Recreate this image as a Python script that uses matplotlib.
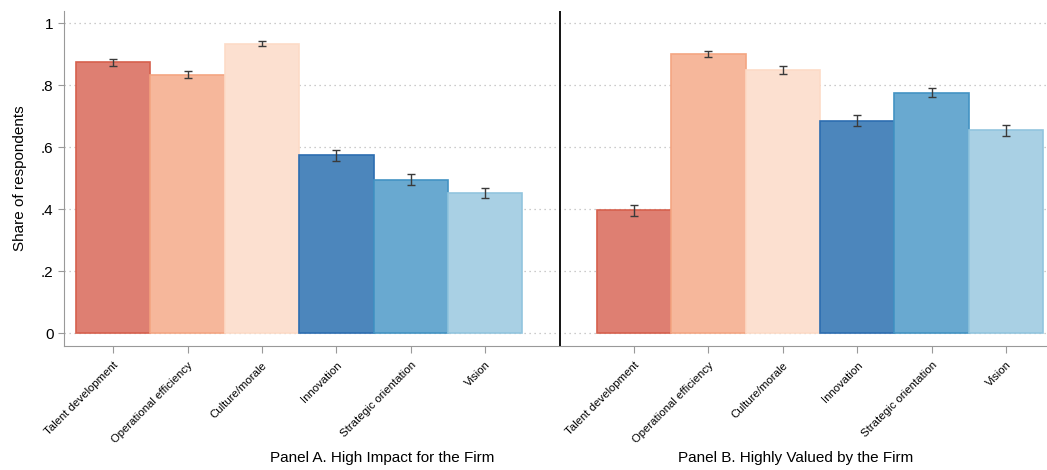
import numpy as np
import matplotlib.pyplot as plt
import matplotlib as mpl
import matplotlib.transforms as mtransforms

mpl.rc('font', family=['Liberation Sans', 'DejaVu Sans'])

# data
categories = ['Talent development', 'Operational efficiency', 'Culture/morale',
              'Innovation', 'Strategic orientation', 'Vision']
panel_a = [0.874, 0.835, 0.935, 0.574, 0.496, 0.452]
panel_a_err = [0.012, 0.012, 0.008, 0.017, 0.018, 0.017]
panel_b = [0.397, 0.901, 0.849, 0.686, 0.777, 0.655]
panel_b_err = [0.018, 0.010, 0.013, 0.017, 0.015, 0.017]
panel_titles = ['Panel A. High Impact for the Firm', 'Panel B. Highly Valued by the Firm']
yticks = [0, 0.2, 0.4, 0.6, 0.8, 1.0]
ytick_labels = ['0', '.2', '.4', '.6', '.8', '1']

fills = ['#DE7F72', '#F6B79B', '#FCE0D0', '#4C86BC', '#69A9D0', '#A9D0E4']
edges = ['#D6604D', '#F4A582', '#FDDBC7', '#2C6DB0', '#4393C3', '#92C5DE']

fig = plt.figure(figsize=(10.47, 4.70), dpi=100)
ax = fig.add_axes([0.0611, 0.2638, 0.9389, 0.7128])

xa = np.arange(1, 7)
xb = np.arange(8, 14)

for i in range(6):
    ax.bar(xa[i], panel_a[i], width=1.0, color=fills[i], edgecolor=edges[i], linewidth=1.2, zorder=2)
    ax.bar(xb[i], panel_b[i], width=1.0, color=fills[i], edgecolor=edges[i], linewidth=1.2, zorder=2)

ax.errorbar(xa, panel_a, yerr=panel_a_err, fmt='none', ecolor='#3a3a3a', elinewidth=1, capsize=3, capthick=1, zorder=3)
ax.errorbar(xb, panel_b, yerr=panel_b_err, fmt='none', ecolor='#3a3a3a', elinewidth=1, capsize=3, capthick=1, zorder=3)

# divider between panels
ax.axvline(7, color='black', linewidth=1.3, zorder=4)

ax.set_xlim(0.34, 13.55)
ax.set_ylim(-0.041, 1.04)
ax.set_yticks(yticks)
ax.set_yticklabels(ytick_labels, fontsize=11)
ax.yaxis.grid(True, linestyle=(0, (1, 3)), color='#bbbbbb', linewidth=0.9, zorder=0)
ax.set_axisbelow(True)

ax.set_xticks(list(xa) + list(xb))
ax.set_xticklabels(categories + categories, rotation=45, ha='right', rotation_mode='anchor', fontsize=8.2)
for lbl in ax.get_xticklabels():
    lbl.set_transform(lbl.get_transform() + mtransforms.ScaledTranslation(3 / 100, 0, fig.dpi_scale_trans))

ax.spines['right'].set_visible(False)
ax.spines['top'].set_visible(False)
ax.spines['left'].set_color('#999999')
ax.spines['bottom'].set_color('#999999')
ax.tick_params(axis='both', colors='#999999', labelcolor='black')
ax.tick_params(axis='x', length=5, pad=5)
ax.tick_params(axis='y', length=4)

ax.set_ylabel('Share of respondents', fontsize=11, labelpad=10)

trans = mtransforms.blended_transform_factory(ax.transData, fig.transFigure)
ax.text(4.62, 1 - 458 / 470, panel_titles[0], transform=trans, ha='center', va='center', fontsize=11)
ax.text(10.17, 1 - 458 / 470, panel_titles[1], transform=trans, ha='center', va='center', fontsize=11)

plt.savefig('out.png', dpi=100)
